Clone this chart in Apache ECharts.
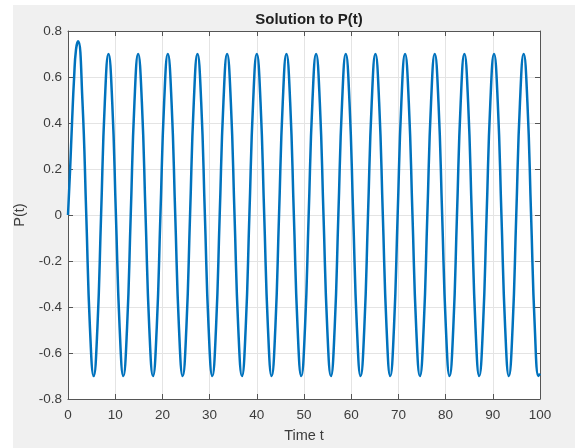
<!DOCTYPE html>
<html>
<head>
<meta charset="utf-8">
<title>Solution to P(t)</title>
<script src="https://cdn.jsdelivr.net/npm/echarts@6/dist/echarts.min.js"></script>
<style>
  html, body { margin: 0; padding: 0; background: #ffffff; }
  #frame { position: absolute; left: 13px; top: 5px; right: 0; bottom: 0; background: #f0f0f0; }
  #chart { position: absolute; left: 0; top: 0; width: 575px; height: 448px; }
</style>
</head>
<body>
<div id="frame"></div>
<div id="chart"></div>
<script>
// Time samples t and the solution P(t) at those times
const times = [
  0, 0.45, 0.85, 1.3, 1.7, 2.15, 3.05, 3.87, 4.65,
  5.44, 6.23, 7.01, 7.80, 8.58, 9.37, 10.15, 10.94,
  11.72, 12.51, 13.29, 14.08, 14.86, 15.65, 16.43, 17.22,
  18.01, 18.80, 19.58, 20.37, 21.15, 21.94, 22.72, 23.51,
  24.29, 25.08, 25.86, 26.65, 27.43, 28.22, 29.00, 29.79,
  30.57, 31.36, 32.14, 32.93, 33.71, 34.50, 35.28, 36.07,
  36.86, 37.65, 38.43, 39.22, 40.00, 40.79, 41.57, 42.36,
  43.14, 43.93, 44.71, 45.50, 46.28, 47.07, 47.85, 48.64,
  49.42, 50.21, 50.99, 51.78, 52.56, 53.35, 54.13, 54.92,
  55.71, 56.50, 57.28, 58.07, 58.85, 59.64, 60.42, 61.21,
  61.99, 62.78, 63.56, 64.35, 65.13, 65.92, 66.70, 67.49,
  68.27, 69.06, 69.84, 70.63, 71.41, 72.20, 72.98, 73.77,
  74.56, 75.35, 76.13, 76.92, 77.70, 78.49, 79.27, 80.06,
  80.84, 81.63, 82.41, 83.20, 83.98, 84.77, 85.55, 86.34,
  87.12, 87.91, 88.69, 89.48, 90.26, 91.05, 91.83, 92.62,
  93.40, 94.19, 94.97, 95.76, 96.54, 97.33, 98.11, 98.90,
  99.69, 100
];
const values = [
  0, 0.20, 0.40, 0.60, 0.72, 0.755, 0.50, 0, -0.49,
  -0.70, -0.49, 0, 0.49, 0.70, 0.49, 0, -0.49,
  -0.70, -0.49, 0, 0.49, 0.70, 0.49, 0, -0.49,
  -0.70, -0.49, 0, 0.49, 0.70, 0.49, 0, -0.49,
  -0.70, -0.49, 0, 0.49, 0.70, 0.49, 0, -0.49,
  -0.70, -0.49, 0, 0.49, 0.70, 0.49, 0, -0.49,
  -0.70, -0.49, 0, 0.49, 0.70, 0.49, 0, -0.49,
  -0.70, -0.49, 0, 0.49, 0.70, 0.49, 0, -0.49,
  -0.70, -0.49, 0, 0.49, 0.70, 0.49, 0, -0.49,
  -0.70, -0.49, 0, 0.49, 0.70, 0.49, 0, -0.49,
  -0.70, -0.49, 0, 0.49, 0.70, 0.49, 0, -0.49,
  -0.70, -0.49, 0, 0.49, 0.70, 0.49, 0, -0.49,
  -0.70, -0.49, 0, 0.49, 0.70, 0.49, 0, -0.49,
  -0.70, -0.49, 0, 0.49, 0.70, 0.49, 0, -0.49,
  -0.70, -0.49, 0, 0.49, 0.70, 0.49, 0, -0.49,
  -0.70, -0.49, 0, 0.49, 0.70, 0.49, 0, -0.49,
  -0.70, -0.69
];

// Axis ranges and tick steps
const xRange = [0, 100];
const xStep = 10;
const yRange = [-0.8, 0.8];
const yStep = 0.2;

const titleText = 'Solution to P(t)';
const xName = 'Time t';
const yName = 'P(t)';

const points = times.map((t, i) => [t, values[i]]);

const FONT = '"Liberation Sans", Arial, Helvetica, sans-serif';
const axisColor = '#555555';
const labelColor = '#3c3c3c';
const gridColor = '#e4e4e4';

function fmt(v) {
  const r = Math.round(v * 10) / 10;
  return r === 0 ? '0' : String(r);
}

function boxAxis(extra) {
  return Object.assign({
    type: 'value',
    axisLine: { show: true, onZero: false, lineStyle: { color: axisColor, width: 1 } },
    axisTick: { show: true, inside: true, length: 5, lineStyle: { color: axisColor } },
    splitLine: { show: false },
    axisLabel: { show: false }
  }, extra);
}

const chart = echarts.init(document.getElementById('chart'), null, { renderer: 'canvas' });

chart.setOption({
  backgroundColor: 'transparent',
  animation: false,
  title: {
    text: titleText,
    left: 304,
    textAlign: 'center',
    top: 7,
    textStyle: { fontFamily: FONT, fontSize: 15, fontWeight: 'bold', color: '#1f1f1f' }
  },
  grid: {
    left: 68, right: 35, top: 31, bottom: 45,
    show: true, backgroundColor: '#ffffff', borderWidth: 0
  },
  xAxis: [
    boxAxis({
      position: 'bottom',
      min: xRange[0], max: xRange[1], interval: xStep,
      name: xName, nameLocation: 'middle', nameGap: 29,
      nameTextStyle: { fontFamily: FONT, fontSize: 14.5, color: labelColor },
      splitLine: { show: true, lineStyle: { color: gridColor, width: 1 } },
      axisLabel: { show: true, margin: 9, fontFamily: FONT, fontSize: 13.5, color: labelColor, formatter: fmt }
    }),
    boxAxis({ position: 'top', min: xRange[0], max: xRange[1], interval: xStep })
  ],
  yAxis: [
    boxAxis({
      position: 'left',
      min: yRange[0], max: yRange[1], interval: yStep,
      name: yName, nameLocation: 'middle', nameGap: 40, nameRotate: 90,
      nameTextStyle: { fontFamily: FONT, fontSize: 14.5, color: labelColor },
      splitLine: { show: true, lineStyle: { color: gridColor, width: 1 } },
      axisLabel: { show: true, margin: 6, fontFamily: FONT, fontSize: 13.5, color: labelColor, formatter: fmt }
    }),
    boxAxis({ position: 'right', min: yRange[0], max: yRange[1], interval: yStep })
  ],
  series: [{
    type: 'line',
    data: points,
    xAxisIndex: 0,
    yAxisIndex: 0,
    smooth: 0.5,
    showSymbol: false,
    symbol: 'none',
    clip: true,
    lineStyle: { color: '#0072BD', width: 2.5 }
  }]
});
</script>
</body>
</html>
